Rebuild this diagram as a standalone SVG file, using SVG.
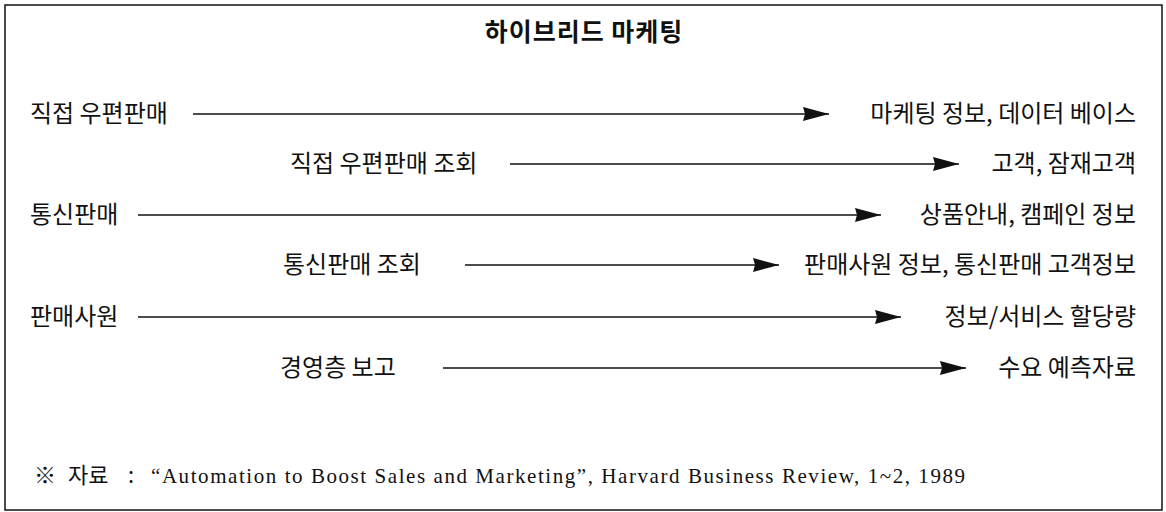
<svg xmlns="http://www.w3.org/2000/svg" width="1166" height="512" viewBox="0 0 1166 512">
<style>
  .k { font-family: "Noto Sans CJK KR", "Noto Sans", sans-serif; font-size: 24px; fill: #111; }
  .t { font-family: "Noto Sans CJK KR", "Noto Sans", sans-serif; font-size: 25px; font-weight: bold; fill: #111; letter-spacing: 1px; }
  .r { text-anchor: end; }
  .f { font-family: "Liberation Serif", "Noto Sans CJK KR", serif; font-size: 21px; fill: #111; }
  .fk { font-family: "Noto Sans CJK KR", sans-serif; font-size: 22px; fill: #111; }
  .c { stroke: #111; stroke-width: 1.4; fill: none; marker-end: url(#ah); }
</style>
<defs>
  <marker id="ah" markerUnits="userSpaceOnUse" markerWidth="27" markerHeight="16" refX="26" refY="8" orient="auto">
    <path d="M0,1 L26,8 L0,15 L2,8 z" fill="#111"/>
  </marker>
</defs>
<rect x="0" y="0" width="1166" height="512" fill="#fff"/>
<rect x="5" y="5" width="1157" height="505" fill="none" stroke="#111" stroke-width="1.5"/>
<g id="title"><text class="t" x="584" y="41" text-anchor="middle">하이브리드 마케팅</text></g>
<g id="n1"><text class="k" x="30" y="122">직접 우편판매</text></g>
<g id="n1t"><text class="k r" x="1136" y="122">마케팅 정보, 데이터 베이스</text></g>
<g id="n2"><text class="k" x="290" y="172">직접 우편판매 조회</text></g>
<g id="n2t"><text class="k r" x="1136" y="172">고객, 잠재고객</text></g>
<g id="n3"><text class="k" x="30" y="223">통신판매</text></g>
<g id="n3t"><text class="k r" x="1136" y="223">상품안내, 캠페인 정보</text></g>
<g id="n4"><text class="k" x="283" y="273">통신판매 조회</text></g>
<g id="n4t"><text class="k r" x="1136" y="273">판매사원 정보, 통신판매 고객정보</text></g>
<g id="n5"><text class="k" x="30" y="325">판매사원</text></g>
<g id="n5t"><text class="k r" x="1136" y="325">정보/서비스 할당량</text></g>
<g id="n6"><text class="k" x="280" y="376">경영층 보고</text></g>
<g id="n6t"><text class="k r" x="1136" y="376">수요 예측자료</text></g>
<g id="connectors">
  <line class="c" x1="193" y1="114" x2="829" y2="114"/>
  <line class="c" x1="510" y1="164" x2="959" y2="164"/>
  <line class="c" x1="138" y1="215" x2="881" y2="215"/>
  <line class="c" x1="465" y1="265" x2="779" y2="265"/>
  <line class="c" x1="138" y1="317" x2="901" y2="317"/>
  <line class="c" x1="443" y1="368" x2="966" y2="368"/>
</g>
<g id="source">
  <text class="fk" x="34" y="483">※</text>
  <text class="fk" x="68" y="483">자료</text>
  <text class="fk" x="128" y="483">:</text>
  <text class="f" x="151" y="483" textLength="814" lengthAdjust="spacing">“Automation to Boost Sales and Marketing”, Harvard Business Review, 1~2, 1989</text>
</g>
</svg>
